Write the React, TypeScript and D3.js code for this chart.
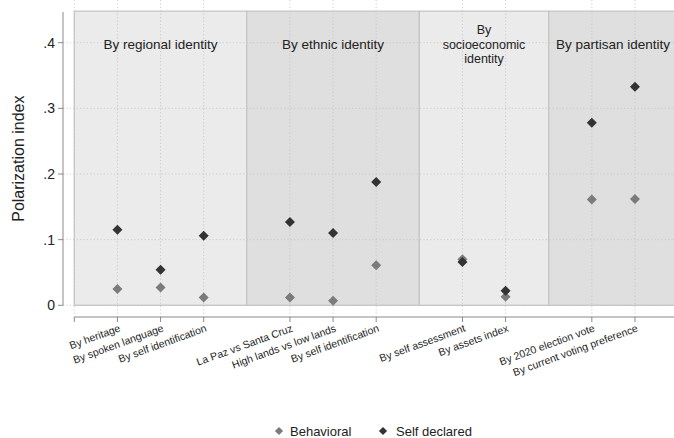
import React from "react";
import * as d3 from "d3";

const categories = [
  "By heritage",
  "By spoken language",
  "By self identification",
  "La Paz vs Santa Cruz",
  "High lands vs low lands",
  "By self identification",
  "By self assessment",
  "By assets index",
  "By 2020 election vote",
  "By current voting preference",
];
const slots = [1, 2, 3, 5, 6, 7, 9, 10, 12, 13];
const behavioral = [0.025, 0.027, 0.012, 0.012, 0.007, 0.061, 0.07, 0.013, 0.161, 0.162];
const selfDeclared = [0.115, 0.054, 0.106, 0.127, 0.11, 0.188, 0.066, 0.022, 0.278, 0.333];

const groupTitles = [
  ["By regional identity"],
  ["By ethnic identity"],
  ["By", "socioeconomic", "identity"],
  ["By partisan identity"],
];
const groupStart = [0, 4, 8, 11];
const groupEnd = [4, 8, 11, 14];
const groupFill = ["#ebebeb", "#dfdfdf", "#ebebeb", "#dfdfdf"];

const yTicks = [0, 0.1, 0.2, 0.3, 0.4];
const yTickLabels = ["0", ".1", ".2", ".3", ".4"];

const W = 674;
const H = 438;
const FONT = "'Liberation Sans', Arial, sans-serif";

export default function App() {
  const x = d3.scaleLinear().domain([0, 14]).range([74.3, 678.1]);
  const y = d3.scaleLinear().domain([0, 0.4]).range([305.3, 42.7]);
  const diamond = d3.symbol().type(d3.symbolSquare).size(50)();
  const legendDiamond = d3.symbol().type(d3.symbolSquare).size(34)();
  const axisY = 317;
  const yAxisX = 63;
  const boxTop = y(0.448);
  const lineGap = 14.2;

  return (
    <svg
      width={W}
      height={H}
      style={{ position: "absolute", left: 0, top: 0, background: "#fff" }}
      fontFamily={FONT}
    >
      {/* group boxes */}
      {groupStart.map((s, i) => (
        <rect
          key={"g" + i}
          x={x(s)}
          y={boxTop}
          width={x(groupEnd[i]) - x(s)}
          height={y(0) - boxTop}
          fill={groupFill[i]}
          stroke="#c6c6c6"
          strokeWidth={1.3}
        />
      ))}
      {/* horizontal grid */}
      {yTicks.map((t, i) => (
        <line
          key={"hg" + i}
          x1={yAxisX}
          x2={W}
          y1={y(t)}
          y2={y(t)}
          stroke="#c4c4c4"
          strokeWidth={0.8}
          strokeDasharray="1.2,2.2"
        />
      ))}
      {/* vertical grid */}
      {[0, ...slots].map((s, i) => (
        <line
          key={"vg" + i}
          x1={x(s)}
          x2={x(s)}
          y1={0}
          y2={axisY}
          stroke="#c4c4c4"
          strokeWidth={0.8}
          strokeDasharray="1.2,2.2"
        />
      ))}
      {/* group titles */}
      {groupTitles.map((lines, i) => {
        const cx = i === 3 ? 613 : (x(groupStart[i]) + x(groupEnd[i])) / 2;
        const n = lines.length;
        return lines.map((ln, j) => (
          <text
            key={"t" + i + "-" + j}
            x={cx}
            y={48.5 + (j - (n - 1) / 2) * lineGap}
            textAnchor="middle"
            fontSize={n > 1 ? 12.5 : 13.5}
            fill="#222"
          >
            {ln}
          </text>
        ));
      })}
      {/* y axis */}
      <line x1={yAxisX} x2={yAxisX} y1={12} y2={y(0)} stroke="#8a8a8a" strokeWidth={1} />
      {yTicks.map((t, i) => (
        <g key={"yt" + i}>
          <line x1={yAxisX - 5} x2={yAxisX} y1={y(t)} y2={y(t)} stroke="#8a8a8a" />
          <text
            x={yAxisX - 8}
            y={y(t)}
            dy="0.36em"
            textAnchor="end"
            fontSize={14}
            fill="#222"
          >
            {yTickLabels[i]}
          </text>
        </g>
      ))}
      <text
        transform={`translate(24,${(y(0) + 12) / 2}) rotate(-90)`}
        textAnchor="middle"
        fontSize={16}
        fill="#222"
      >
        Polarization index
      </text>
      {/* x axis */}
      <line x1={x(0)} x2={W} y1={axisY} y2={axisY} stroke="#8a8a8a" strokeWidth={1} />
      {[0, ...slots].map((s, i) => (
        <line key={"xt" + i} x1={x(s)} x2={x(s)} y1={axisY} y2={axisY + 5} stroke="#8a8a8a" />
      ))}
      {categories.map((c, i) => (
        <text
          key={"xl" + i}
          transform={`translate(${x(slots[i]) + 1},${axisY + 7}) rotate(-20)`}
          textAnchor="end"
          dy="0.72em"
          fontSize={10.5}
          fill="#222"
        >
          {c}
        </text>
      ))}
      {/* points */}
      {behavioral.map((v, i) => (
        <path
          key={"b" + i}
          d={diamond}
          transform={`translate(${x(slots[i])},${y(v)}) rotate(45)`}
          fill="#7b7b7b"
        />
      ))}
      {selfDeclared.map((v, i) => (
        <path
          key={"s" + i}
          d={diamond}
          transform={`translate(${x(slots[i])},${y(v)}) rotate(45)`}
          fill="#333333"
        />
      ))}
      {/* legend */}
      <path d={legendDiamond} transform="translate(279,431) rotate(45)" fill="#7b7b7b" />
      <text x={290} y={431} dy="0.36em" fontSize={13} fill="#222">
        Behavioral
      </text>
      <path d={legendDiamond} transform="translate(383,431) rotate(45)" fill="#333333" />
      <text x={396} y={431} dy="0.36em" fontSize={13} fill="#222">
        Self declared
      </text>
    </svg>
  );
}
